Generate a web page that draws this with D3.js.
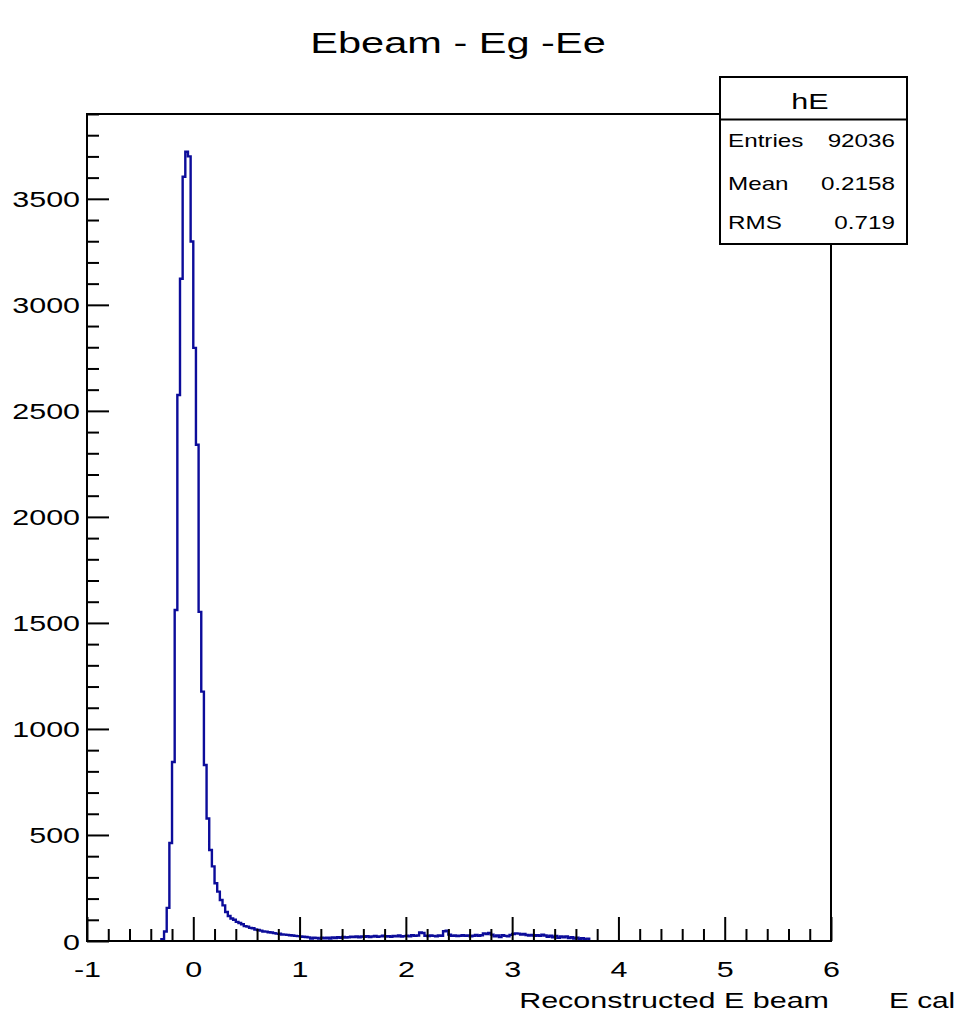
<!DOCTYPE html>
<html>
<head>
<meta charset="utf-8">
<script src="https://cdn.jsdelivr.net/npm/d3@7"></script>
<style>
  html, body { margin: 0; padding: 0; background: #ffffff; }
  svg { display: block; }
  text { font-family: "Liberation Sans", Arial, Helvetica, sans-serif; fill: #000; }
</style>
</head>
<body>
<script>
// Histogram binning: 280 bins spanning [-1, 6]
const X_MIN = -1;
const X_MAX = 6;
const N_BINS = 280;
const FIRST_BIN = 28;   // index of the first entry in binCounts
const Y_MAX = 3900;

// Bin contents, starting at bin FIRST_BIN (x = -0.30); all other bins are empty
const binCounts = [
  8, 45, 156, 462, 844, 1561, 2575, 3123, 3604, 3722,
  3700, 3299, 2797, 2340, 1552, 1176, 830, 578, 429, 352,
  272, 233, 193, 168, 137, 118, 106, 100, 90, 85,
  79, 70, 68, 62, 60, 54, 52, 49, 45, 44,
  41, 40, 37, 35, 34, 31, 30, 29, 27, 26,
  24, 23, 22, 20, 19, 17, 12, 15, 14, 11,
  16, 13, 15, 12, 17, 14, 18, 15, 19, 16,
  18, 20, 19, 21, 18, 22, 20, 23, 19, 21,
  24, 20, 22, 25, 21, 23, 20, 24, 22, 26,
  21, 23, 25, 22, 27, 24, 26, 40, 38, 25,
  23, 26, 24, 22, 26, 25, 46, 49, 30, 24,
  26, 23, 25, 27, 24, 26, 22, 25, 28, 24,
  27, 36, 33, 38, 30, 22, 26, 19, 27, 24,
  22, 29, 33, 36, 35, 31, 33, 28, 26, 29,
  25, 27, 24, 30, 26, 20, 25, 18, 24, 15,
  21, 17, 22, 14, 18, 12, 16, 10, 13, 9,
  11
];

// Axis ticks and labels
const xMajorTicks = [-1, 0, 1, 2, 3, 4, 5, 6];
const xTickLabels = ["-1", "0", "1", "2", "3", "4", "5", "6"];
const yMajorTicks = [0, 500, 1000, 1500, 2000, 2500, 3000, 3500];
const yTickLabels = ["0", "500", "1000", "1500", "2000", "2500", "3000", "3500"];

// Text content
const titleText = "Ebeam - Eg -Ee";
const xAxisTitle = "Reconstructed E beam";
const extraLabel = "E cal";
const statsName = "hE";
const statsRows = [
  ["Entries", "92036"],
  ["Mean", "0.2158"],
  ["RMS", "0.719"]
];

// ---- layout ----
const W = 959, H = 1015;
const frame = { left: 87, right: 831, top: 114, bottom: 941 };
const SX = 1.385;   // horizontal glyph stretch used for all labels

const svg = d3.select("body").append("svg")
  .attr("width", W).attr("height", H);

const x = d3.scaleLinear().domain([X_MIN, X_MAX]).range([frame.left, frame.right]);
const y = d3.scaleLinear().domain([0, Y_MAX]).range([frame.bottom, frame.top]);

// helper: stretched text placed at (px, py)
function label(parent, px, py, str, size, anchor) {
  return parent.append("g")
    .attr("transform", `translate(${px},${py})`)
    .append("text")
    .attr("transform", `scale(${SX},1)`)
    .attr("text-anchor", anchor || "start")
    .style("font-size", size + "px")
    .text(str);
}

// ---- histogram outline (only over the filled bin range) ----
const binWidth = (X_MAX - X_MIN) / N_BINS;
const steps = [{ edge: X_MIN + FIRST_BIN * binWidth, value: 0 }];
binCounts.forEach((c, i) => {
  steps.push({ edge: X_MIN + (FIRST_BIN + i) * binWidth, value: c });
});
const lastEdge = X_MIN + (FIRST_BIN + binCounts.length) * binWidth;
steps.push({ edge: lastEdge, value: 0 });

const histLine = d3.line()
  .x(d => x(d.edge))
  .y(d => y(d.value))
  .curve(d3.curveStepAfter);

svg.append("path")
  .datum(steps)
  .attr("d", histLine)
  .attr("fill", "none")
  .attr("stroke", "#0c0c9a")
  .attr("stroke-width", 2.4)
  .attr("stroke-linejoin", "miter");

// ---- axes (ticks drawn inward) ----
const xMinor = d3.range(X_MIN, X_MAX + 1e-9, 0.2)
  .filter(v => Math.abs(v - Math.round(v)) > 1e-6);
const yMinor = d3.range(0, Y_MAX + 1e-9, 100)
  .filter(v => v % 500 !== 0);

const gx = svg.append("g").attr("transform", `translate(0,${frame.bottom})`);
gx.append("g")
  .call(d3.axisBottom(x).tickValues(xMinor).tickSize(-12).tickFormat(""))
  .call(g => g.select(".domain").remove());
gx.append("g")
  .call(d3.axisBottom(x).tickValues(xMajorTicks).tickSize(-24)
    .tickFormat((d, i) => xTickLabels[i]).tickPadding(20))
  .call(g => g.select(".domain").remove())
  .call(g => g.selectAll("text")
    .attr("transform", `scale(${SX},1)`)
    .attr("dy", null)
    .attr("y", 36)
    .style("font-size", "22px")
    .style("font-family", null));

const gy = svg.append("g").attr("transform", `translate(${frame.left},0)`);
gy.append("g")
  .call(d3.axisLeft(y).tickValues(yMinor).tickSize(-12).tickFormat(""))
  .call(g => g.select(".domain").remove());
gy.append("g")
  .call(d3.axisLeft(y).tickValues(yMajorTicks).tickSize(-22)
    .tickFormat((d, i) => yTickLabels[i]))
  .call(g => g.select(".domain").remove())
  .call(g => g.selectAll("text")
    .attr("transform", `scale(${SX},1)`)
    .attr("x", -7 / SX)
    .attr("dy", null)
    .attr("y", 8)
    .style("font-size", "22px")
    .style("font-family", null));

svg.selectAll(".tick line").attr("stroke", "#000").attr("stroke-width", 2);

// frame
svg.append("rect")
  .attr("x", frame.left).attr("y", frame.top)
  .attr("width", frame.right - frame.left)
  .attr("height", frame.bottom - frame.top)
  .attr("fill", "none")
  .attr("stroke", "#000")
  .attr("stroke-width", 2);

// ---- titles ----
label(svg, 458, 53, titleText, 30, "middle");
label(svg, 829, 1008, xAxisTitle, 22, "end");
label(svg, 889, 1008, extraLabel, 21.5, "start");

// ---- statistics box ----
const box = { left: 720, right: 907, top: 77, bottom: 244, divider: 119.5 };
const stats = svg.append("g");
stats.append("rect")
  .attr("x", box.left).attr("y", box.top)
  .attr("width", box.right - box.left)
  .attr("height", box.bottom - box.top)
  .attr("fill", "#fff")
  .attr("stroke", "#000")
  .attr("stroke-width", 2);
stats.append("line")
  .attr("x1", box.left).attr("x2", box.right)
  .attr("y1", box.divider).attr("y2", box.divider)
  .attr("stroke", "#000").attr("stroke-width", 2);
label(stats, 810, 109, statsName, 22, "middle");
const rowBase = [147, 190, 229];
statsRows.forEach((r, i) => {
  label(stats, 728, rowBase[i], r[0], 17.5, "start");
  label(stats, 895, rowBase[i], r[1], 17.5, "end");
});
</script>
</body>
</html>
